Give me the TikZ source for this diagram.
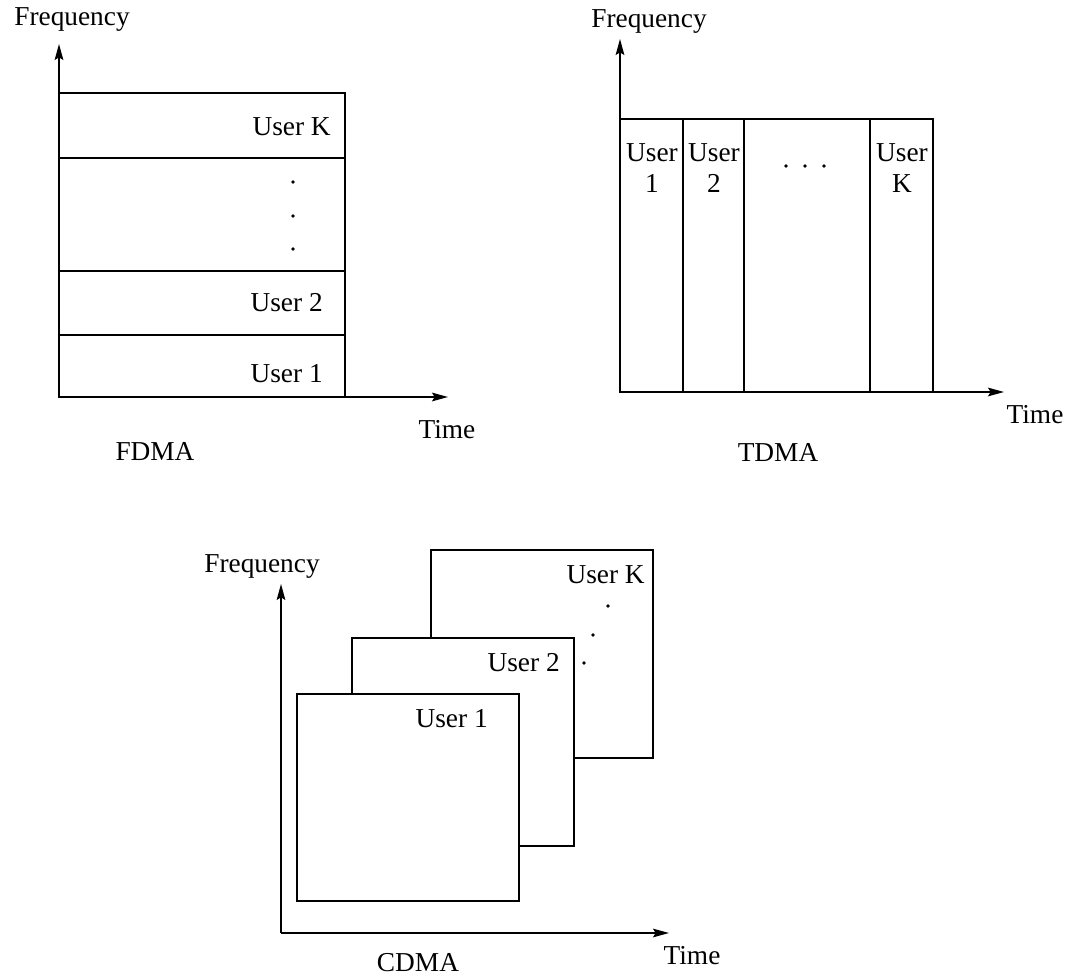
\documentclass[tikz,border=0pt]{standalone}
\usepackage{fontspec}
\setmainfont{Liberation Serif}
\usetikzlibrary{arrows.meta}
\begin{document}
\begin{tikzpicture}[x=0.75pt,y=-0.75pt,
  every node/.style={font=\fontsize{20.5}{23.5}\selectfont, inner sep=0pt},
  axis/.style={line width=1.1pt, -{Stealth[length=12pt,width=6.5pt,inset=2pt]}},
  band/.style={line width=1.4pt},
  card/.style={line width=1.4pt, fill=white},
  dotmark/.style={circle, fill=black, minimum size=2.8pt, inner sep=0pt}]
\useasboundingbox (0,0) rectangle (1072,980);

% ---------------- FDMA ----------------
\coordinate (fo) at (59,397);
\coordinate (fy) at (59,44);
\coordinate (fx) at (448,397);
\draw[axis] (fo) -- (fy);
\draw[axis] (fo) -- (fx);
\node (ffreq) at (72,20) {Frequency};
\node (ftime) at (447,430) {Time};
\node (fdma) at (155,452) {FDMA};
\draw[band] (59,93) rectangle (345,397);
\draw[band] (59,158) -- (345,158);
\draw[band] (59,271) -- (345,271);
\draw[band] (59,335) -- (345,335);
\node[anchor=east] (fuk) at (331,127) {User K};
\node[anchor=east] (fu2) at (323,303) {User 2};
\node[anchor=east] (fu1) at (323,374) {User 1};
\node[dotmark] (fd1) at (293,182) {};
\node[dotmark] (fd2) at (293,216) {};
\node[dotmark] (fd3) at (293,249) {};

% ---------------- TDMA ----------------
\coordinate (to) at (620,392);
\coordinate (ty) at (620,39);
\coordinate (tx) at (1004,392);
\draw[axis] (to) -- (ty);
\draw[axis] (to) -- (tx);
\node (tfreq) at (649,22) {Frequency};
\node (ttime) at (1035,415) {Time};
\node (tdma) at (778,453) {TDMA};
\draw[band] (620,119) rectangle (933,392);
\draw[band] (683,119) -- (683,392);
\draw[band] (744,119) -- (744,392);
\draw[band] (870,119) -- (870,392);
\node[align=center] (tu1) at (652,168) {User\\1};
\node[align=center] (tu2) at (714,168) {User\\2};
\node[align=center] (tuk) at (902,168) {User\\K};
\node[dotmark] (td1) at (786,166) {};
\node[dotmark] (td2) at (805,166) {};
\node[dotmark] (td3) at (824,166) {};

% ---------------- CDMA ----------------
\coordinate (co) at (281,933);
\coordinate (cy) at (281,584);
\coordinate (cx) at (669,933);
\draw[axis] (co) -- (cy);
\draw[axis] (co) -- (cx);
\node (cfreq) at (262,567) {Frequency};
\node (ctime) at (692,956) {Time};
\node (cdma) at (418,963) {CDMA};
\draw[card] (431,550) rectangle (653,758);
\draw[card] (352,638) rectangle (574,846);
\draw[card] (297,694) rectangle (519,901);
\node[anchor=east] (cuk) at (645,575) {User K};
\node[anchor=east] (cu2) at (560,663) {User 2};
\node[anchor=east] (cu1) at (488,719) {User 1};
\node[dotmark] (cd1) at (608,606) {};
\node[dotmark] (cd2) at (593,635) {};
\node[dotmark] (cd3) at (584,663) {};
\end{tikzpicture}
\end{document}
